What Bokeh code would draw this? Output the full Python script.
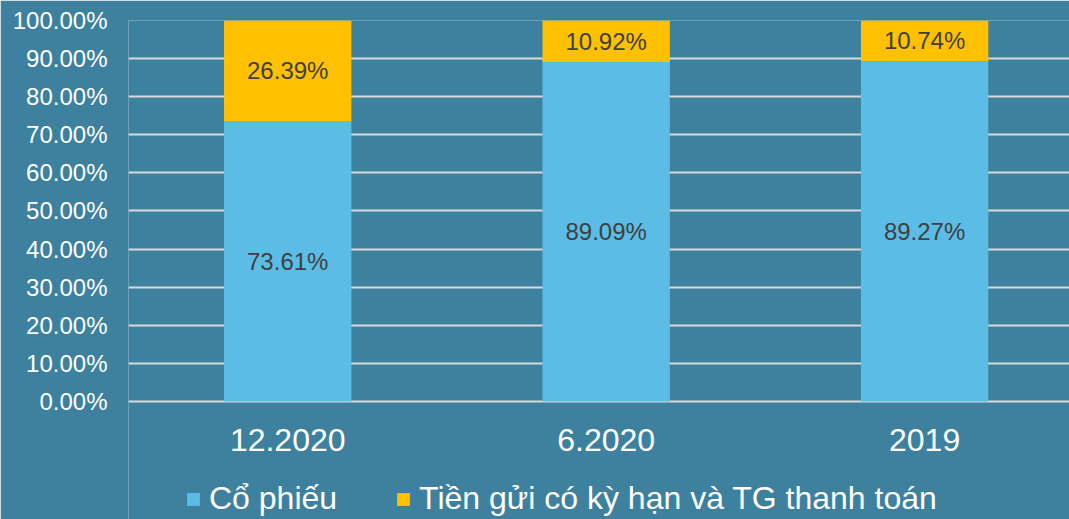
from bokeh.plotting import figure
from bokeh.models import ColumnDataSource, FixedTicker, Legend, LegendItem
from bokeh.core.properties import value
from bokeh.embed import file_html
from bokeh.resources import INLINE

categories = ["12.2020", "6.2020", "2019"]
co_phieu = [73.61, 89.09, 89.27]
tien_gui = [26.39, 10.92, 10.74]
series_names = ["Cổ phiếu", "Tiền gửi có kỳ hạn và TG thanh toán"]
y_ticks = [0, 10, 20, 30, 40, 50, 60, 70, 80, 90, 100]

BG = "#3d819f"
BLUE = "#5bbde5"
GOLD = "#ffc000"
FONT = "Liberation Sans"

# frame extends below 0% to host category labels and legend
Y_BOTTOM = -31
CAT_LABEL_Y = -10

xs = [i + 0.5 for i in range(len(categories))]
src = ColumnDataSource(dict(
    x=xs,
    a=co_phieu,
    b=tien_gui,
    a_mid=[v / 2 for v in co_phieu],
    b_mid=[a + b / 2 for a, b in zip(co_phieu, tien_gui)],
    a_lab=[f"{v:.2f}%" for v in co_phieu],
    b_lab=[f"{v:.2f}%" for v in tien_gui],
    cat=categories,
    cat_y=[CAT_LABEL_Y] * len(categories),
))

p = figure(width=1069, height=519, frame_width=941, frame_height=499,
           output_backend="svg", toolbar_location=None,
           x_range=(0, 2.955), y_range=(Y_BOTTOM, 100),
           min_border_left=128, min_border_right=0, min_border_top=20, min_border_bottom=0)
p.background_fill_color = BG
p.border_fill_color = BG
p.outline_line_color = None

r = p.vbar_stack(["a", "b"], x="x", width=0.4, source=src, color=[BLUE, GOLD], line_color=None)

p.text(x="x", y="a_mid", text="a_lab", source=src, text_align="center", text_baseline="middle",
       text_font=value(FONT), text_font_size="24px", text_color="#404040")
p.text(x="x", y="b_mid", text="b_lab", source=src, text_align="center", text_baseline="middle",
       text_font=value(FONT), text_font_size="24px", text_color="#404040")

# category labels
p.text(x="x", y="cat_y", text="cat", source=src, text_align="center", text_baseline="middle",
       text_font=value(FONT), text_font_size="32px", text_color="white")

p.xgrid.visible = False
p.ygrid.ticker = FixedTicker(ticks=y_ticks)
p.ygrid.grid_line_color = "#d9d9d9"
p.ygrid.grid_line_width = 2

p.xaxis.visible = False

p.yaxis.ticker = FixedTicker(ticks=y_ticks)
p.yaxis.major_label_overrides = {t: f"{t:.2f}%" for t in y_ticks}
p.yaxis.major_label_text_font = FONT
p.yaxis.major_label_text_font_size = "24px"
p.yaxis.major_label_text_color = "white"
p.yaxis.major_label_standoff = 15
p.yaxis.axis_line_color = None
p.yaxis.major_tick_line_color = None
p.yaxis.minor_tick_line_color = None

legend = Legend(items=[LegendItem(label=series_names[0], renderers=[r[0]]),
                       LegendItem(label=series_names[1], renderers=[r[1]])],
                orientation="horizontal", location=(57, 2))
legend.label_text_font = FONT
legend.label_text_font_size = "32px"
legend.label_text_color = "white"
legend.label_height = 30
legend.glyph_width = 16
legend.glyph_height = 16
legend.label_standoff = 8
legend.spacing = 58
legend.padding = 0
legend.margin = 0
legend.background_fill_alpha = 0
legend.border_line_alpha = 0
p.add_layout(legend)

open("out.html", "w").write(file_html(p, INLINE))
